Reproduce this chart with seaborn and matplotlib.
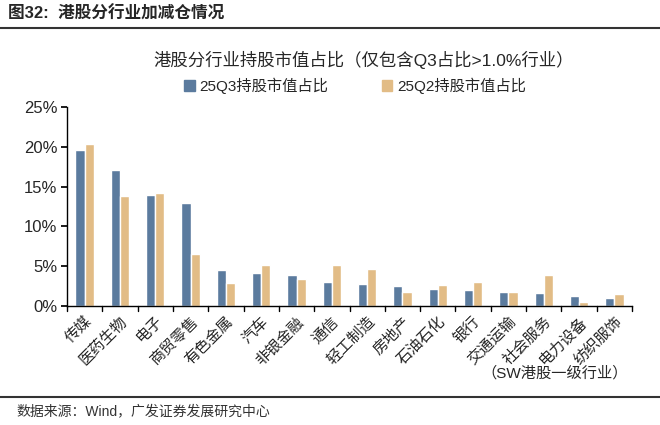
import matplotlib
matplotlib.use("Agg")
import matplotlib.pyplot as plt
import seaborn as sns
import pandas as pd
from matplotlib.ticker import FuncFormatter

### Data ###
industries = ["传媒", "医药生物", "电子", "商贸零售", "有色金属", "汽车", "非银金融", "通信",
              "轻工制造", "房地产", "石油石化", "银行", "交通运输", "社会服务", "电力设备", "纺织服饰"]
q3_share = [19.6, 17.1, 14.0, 12.9, 4.5, 4.2, 3.9, 3.0, 2.8, 2.5, 2.1, 2.0, 1.8, 1.6, 1.2, 0.95]
q2_share = [20.3, 13.8, 14.2, 6.5, 2.85, 5.2, 3.4, 5.1, 4.7, 1.8, 2.7, 3.0, 1.7, 3.95, 0.5, 1.5]
series_names = ["25Q3持股市值占比", "25Q2持股市值占比"]
y_ticks = [0, 5, 10, 15, 20, 25]

df = pd.DataFrame({
    "industry": industries * 2,
    "share": q3_share + q2_share,
    "series": [series_names[0]] * len(industries) + [series_names[1]] * len(industries),
})

### Style ###
sns.set_theme(style="white")
plt.rcParams['font.family'] = ['Liberation Sans', 'Noto Sans CJK SC']
colors = ["#5B7B9E", "#E2BC86"]

fig = plt.figure(figsize=(6.6, 4.25), dpi=100)
ax = fig.add_axes([67 / 660, 1 - 306 / 425, 565 / 660, 199 / 425])

sns.barplot(data=df, x="industry", y="share", hue="series", palette=colors,
            width=0.52, saturation=1, ax=ax, legend=False)

ax.set_ylim(0, 25)
ax.set_xlim(-0.5, len(industries) - 0.5)
ax.set_yticks(y_ticks)
ax.yaxis.set_major_formatter(FuncFormatter(lambda v, p: f"{v:.0f}%"))
ax.tick_params(axis="y", labelsize=12, length=4, direction="out", left=True, color="black", pad=3)
ax.set_xticks(range(len(industries)))
ax.set_xticklabels(industries, rotation=45, ha="right", rotation_mode="anchor", fontsize=11)
ax.tick_params(axis="x", length=0, pad=6)
# ticks on bottom axis sit between categories
for i in range(len(industries) + 1):
    ax.plot([i - 0.5, i - 0.5], [0, -0.6], color="black", lw=1, clip_on=False)
ax.set_xlabel("")
ax.set_ylabel("")
for s in ["top", "right"]:
    ax.spines[s].set_visible(False)
for s in ["left", "bottom"]:
    ax.spines[s].set_color("black")
    ax.spines[s].set_linewidth(1)

### Titles, legend, notes ###
fig.text(0.012, 1 - 14 / 425, "图32:  港股分行业加减仓情况", fontsize=12, fontweight="bold",
         va="center", ha="left")
fig.add_artist(plt.Line2D([0.0, 1.0], [1 - 28 / 425, 1 - 28 / 425], color="#333333", lw=1.5))
fig.text(364 / 660, 1 - 60 / 425, "港股分行业持股市值占比（仅包含Q3占比>1.0%行业）", fontsize=12.5,
         ha="center", va="center")
handles = [plt.Rectangle((0, 0), 1, 1, color=c) for c in colors]
fig.legend(handles, series_names, loc="center", bbox_to_anchor=(355 / 660, 1 - 86 / 425), ncol=2,
           frameon=False, fontsize=11, handlelength=0.7, handleheight=0.7, handletextpad=0.3,
           columnspacing=3.5)
fig.text(555 / 660, 1 - 373 / 425, "（SW港股一级行业）", fontsize=11, ha="center", va="center")
fig.add_artist(plt.Line2D([0.0, 1.0], [1 - 397 / 425, 1 - 397 / 425], color="#333333", lw=1.5))
fig.text(0.025, 1 - 411 / 425, "数据来源：Wind，广发证券发展研究中心", fontsize=10, ha="left",
         va="center", color="#333333")

fig.savefig("out.png", dpi=100)
